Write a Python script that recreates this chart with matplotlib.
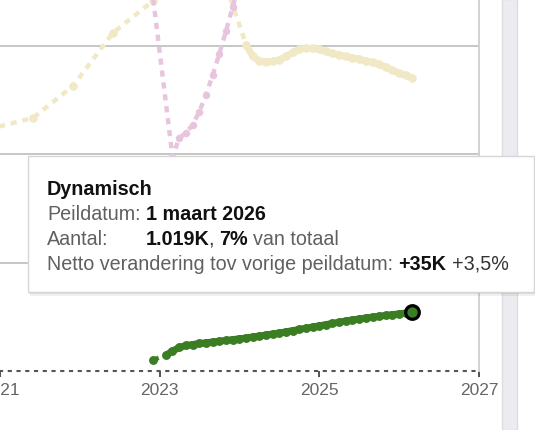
import matplotlib
matplotlib.use('Agg')
import matplotlib.pyplot as plt
from matplotlib.patches import Rectangle
import pandas as pd

W, H = 535, 431
plt.rcParams['font.family'] = ['Liberation Sans', 'DejaVu Sans']

# data (aantallen in duizenden, peildatum = eerste van de maand)
groen_datums = pd.to_datetime(['2022-12-01']).append(pd.date_range('2023-02-01', '2026-03-01', freq='MS'))
groen_waarden = [203,
                 296, 369, 434, 471, 489, 508, 521, 536, 550, 565, 580,
                 595, 610, 628, 646, 665, 683, 702, 724, 746, 768, 791, 813,
                 835, 857, 879, 901, 924, 942, 960, 979, 997, 1012, 1027, 1042,
                 1056, 1071, 1086]

geel_datums = pd.to_datetime(['2020-12-01', '2021-06-01', '2021-12-01', '2022-06-01',
                              '2022-12-01', '2023-09-01']).append(
    pd.date_range('2024-02-01', '2026-03-01', freq='MS'))
geel_waarden = [4488, 4673, 5264, 6243, 6834, 7850,
                6021, 5818, 5726, 5707, 5716, 5744, 5809, 5883, 5938, 5966, 5966,
                5938, 5901, 5864, 5837, 5809, 5781, 5763, 5726, 5698, 5661, 5615,
                5550, 5504, 5458, 5411]

roze_datums = pd.to_datetime(['2022-12-01']).append(pd.date_range('2023-03-01', '2024-01-01', freq='MS'))
roze_waarden = [6926, 3953, 4304, 4396, 4544, 4784, 5098, 5467, 5855, 6280, 6723, 7148]

jaren = [2021, 2023, 2025, 2027]

GROEN = '#3a7d22'
GEEL = '#f1e9c6'
ROZE = '#e8c5de'

fig = plt.figure(figsize=(W / 100, H / 100), dpi=100)
ax = fig.add_axes([0, (H - 372) / H, 479 / W, 372 / H])


def reeks(datums, waarden, kleur, ms, doorgetrokken=True):
    # gestippeld over gaten, doorgetrokken tussen opeenvolgende maanden
    ax.plot(datums, waarden, color=kleur, linestyle=(0, (1.4, 1.3)), linewidth=3.2)
    if doorgetrokken:
        for i in range(len(datums) - 1):
            if (datums[i + 1] - datums[i]).days <= 31:
                ax.plot(datums[i:i + 2], waarden[i:i + 2], color=kleur, linewidth=5,
                        solid_capstyle='round')
    ax.plot(datums, waarden, 'o', color=kleur, ms=ms, mew=0)


reeks(geel_datums, geel_waarden, GEEL, 6.2)
reeks(roze_datums, roze_waarden, ROZE, 5.4, doorgetrokken=False)
reeks(groen_datums, groen_waarden, GROEN, 6.4)
ax.plot(groen_datums[-1:], groen_waarden[-1:], 'o', ms=9.8, mfc=GROEN, mec='black', mew=2.3)

ax.set_xlim(pd.Timestamp('2021-01-05'), pd.Timestamp('2027-01-01'))
ax.set_ylim(0, 6870)
ax.set_xticks([pd.Timestamp(f'{j}-01-01') for j in jaren])
ax.set_xticklabels([str(j) for j in jaren])
ax.set_yticks([2000, 4000, 6000])
ax.grid(axis='y', color='#c6c6c6', linewidth=1.4)
ax.set_axisbelow(True)
ax.tick_params(axis='y', left=False, labelleft=False)
ax.tick_params(axis='x', direction='out', length=4, width=1.1, color='#222',
               labelsize=12.5, labelcolor='#666666', pad=4)
for s in ['left', 'top']:
    ax.spines[s].set_visible(False)
ax.spines['right'].set_color('#d2d2d2')
ax.spines['right'].set_linewidth(1.4)
ax.spines['bottom'].set_linestyle((0, (1, 3.2)))
ax.spines['bottom'].set_linewidth(1.5)
ax.spines['bottom'].set_color('#555555')


def fig_rect(x0, y0, x1, y1, **kw):
    r = Rectangle((x0 / W, 1 - y1 / H), (x1 - x0) / W, (y1 - y0) / H,
                  transform=fig.transFigure, **kw)
    fig.patches.append(r)


# schuifbalk rechts
fig_rect(502, 0, 517, H, facecolor='#ebebf0', edgecolor='#dcdce2', linewidth=1, zorder=5)

# tooltip met schaduw
fig_rect(30, 160, 537, 297, facecolor='#000000', alpha=0.06, linewidth=0, zorder=9)
fig_rect(29, 158, 536, 295, facecolor='#000000', alpha=0.08, linewidth=0, zorder=9)
fig_rect(28, 157, 534, 293, facecolor='white', edgecolor='#d6d6d6', linewidth=1, zorder=10)

FS = 14.2
renderer = fig.canvas.get_renderer()


def breedte(s, weight='normal'):
    t = fig.text(0, 0, s, fontsize=FS, fontweight=weight)
    w = t.get_window_extent(renderer).width
    t.remove()
    return w


def voorsprong(s, weight):
    # breedte inclusief spaties, gemeten tussen twee streepjes
    return breedte('|' + s + '|', weight) - breedte('||', weight)


GRIJS = '#606060'
ZWART = '#111111'


def regel(x, y, stukken):
    for s, weight, kleur, *kern in stukken:
        x += kern[0] if kern else 0
        if s.strip():
            fig.text(x / W, 1 - y / H, s, fontsize=FS, fontweight=weight, color=kleur,
                     ha='left', va='baseline', zorder=12)
        x += voorsprong(s, weight)


regel(47, 195, [('Dynamisch', 'bold', ZWART)])
regel(47, 220, [('Peildatum:', 'normal', GRIJS)])
regel(146, 220, [('1 maart 2026', 'bold', ZWART)])
regel(47, 245, [('Aantal:', 'normal', GRIJS)])
regel(146, 245, [('1.019K', 'bold', ZWART), (',', 'normal', '#333333', -2), (' ', 'normal', ZWART),
                 ('7%', 'bold', ZWART), (' ', 'normal', ZWART), ('van totaal', 'normal', GRIJS)])
regel(47, 270, [('Netto verandering tov vorige peildatum:', 'normal', GRIJS), (' ', 'normal', ZWART),
                ('+35K', 'bold', ZWART), (' ', 'normal', ZWART), ('+3,5%', 'normal', '#333333')])

fig.savefig('out.png', dpi=100)
